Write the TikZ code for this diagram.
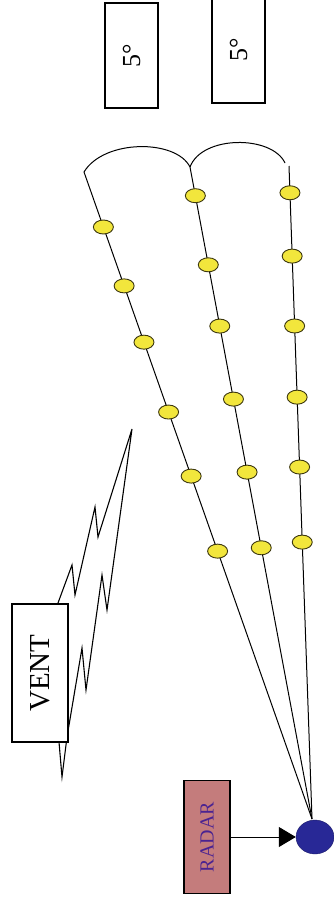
\documentclass[tikz,border=0pt]{standalone}
\usepackage{fontspec}
\setmainfont{Liberation Serif}
\usetikzlibrary{arrows.meta,calc,shapes.geometric}
\definecolor{dotyellow}{RGB}{242,230,60}
\definecolor{dotedge}{RGB}{60,55,15}
\definecolor{radarfill}{RGB}{196,124,124}
\definecolor{radartext}{RGB}{75,35,145}
\definecolor{antblue}{RGB}{40,40,150}
\tikzset{
  beam/.style={line width=1pt},
  dotmark/.style={ellipse,draw=dotedge,fill=dotyellow,line width=0.9pt,minimum width=20pt,minimum height=14pt,inner sep=0pt},
  labelbox/.style={draw,fill=white,line width=1.2pt,inner sep=0pt},
}
\begin{document}
\begin{tikzpicture}[x=1pt,y=-1pt]
\useasboundingbox (0,0) rectangle (334,905);
\fill[white] (0,0) rectangle (334,905);
% angle boxes
\node[labelbox,minimum width=53pt,minimum height=105pt] (b1) at (131.5,55.5) {};
\node[rotate=90,font=\fontsize{26}{26}\selectfont] (t1) at (b1.center) {5°};
\node[labelbox,minimum width=53pt,minimum height=106pt] (b2) at (238.5,50) {};
\node[rotate=90,font=\fontsize{26}{26}\selectfont] (t2) at (b2.center) {5°};
% antenna
\node[ellipse,fill=antblue,draw=antblue!70!black,minimum width=38pt,minimum height=34pt,inner sep=0pt] (ant) at (315,837) {};
\coordinate (apex) at (312,819);
\coordinate (top1) at (84,172);
\coordinate (top2) at (190,167);
\coordinate (top3) at (289,166);
% beams
\draw[beam] (apex) -- (top1)
  node[dotmark,pos=0.414] (d16) {} node[dotmark,pos=0.530] (d15) {} node[dotmark,pos=0.629] (d14) {}
  node[dotmark,pos=0.737] (d13) {} node[dotmark,pos=0.824] (d12) {} node[dotmark,pos=0.915] (d11) {};
\draw[beam] (apex) -- (top2)
  node[dotmark,pos=0.416] (d26) {} node[dotmark,pos=0.532] (d25) {} node[dotmark,pos=0.644] (d24) {}
  node[dotmark,pos=0.756] (d23) {} node[dotmark,pos=0.850] (d22) {} node[dotmark,pos=0.956] (d21) {};
\draw[beam] (apex) -- (top3)
  node[dotmark,pos=0.424] (d36) {} node[dotmark,pos=0.539] (d35) {} node[dotmark,pos=0.646] (d34) {}
  node[dotmark,pos=0.755] (d33) {} node[dotmark,pos=0.862] (d32) {} node[dotmark,pos=0.959] (d31) {};
% arcs
\draw[beam] (top1) .. controls (104,139) and (176,139) .. (top2);
\draw[beam] (top2) .. controls (202,135) and (272,135) .. (285,163);
% lightning
\draw[line width=1.1pt,line join=miter] (62,777) -- (59,742) -- (58,603) -- (72,565) -- (75,595) -- (95,507) -- (98,537) -- (132,429)
  -- (107,610) -- (102,575) -- (86,690) -- (82,648) -- (67,737) -- cycle;
% vent box
\node[labelbox,minimum width=56pt,minimum height=138pt] (vent) at (40,673) {};
\node[rotate=90,font=\fontsize{29}{29}\selectfont] (vt) at (vent.center) {VENT};
% radar box
\node[draw=black,fill=radarfill,line width=1.2pt,minimum width=46pt,minimum height=113pt,inner sep=0pt] (radar) at (207,837) {};
\node[rotate=90,text=radartext,font=\fontsize{20}{20}\selectfont] (rt) at (radar.center) {RADAR};
\draw[line width=1pt,-{Triangle[length=17pt,width=20pt]}] (radar.east) -- (ant.west);
\end{tikzpicture}
\end{document}
